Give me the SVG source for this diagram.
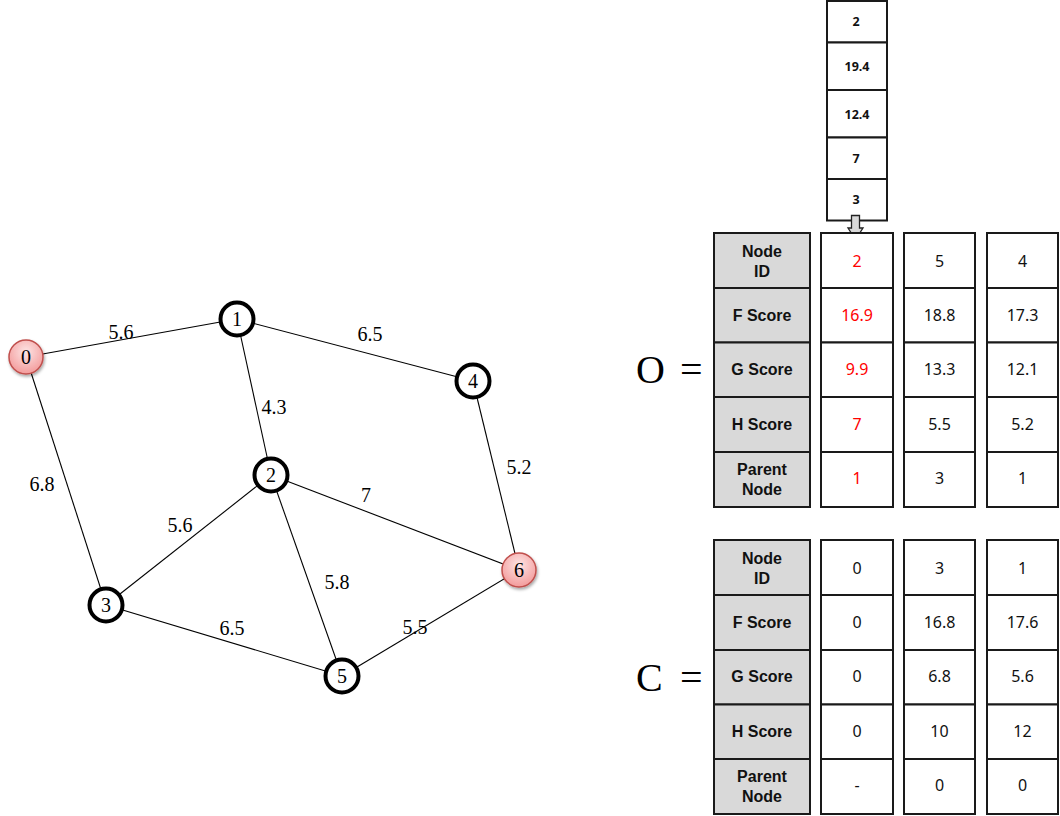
<svg xmlns="http://www.w3.org/2000/svg" width="1060" height="816" viewBox="0 0 1060 816">
<defs>
<radialGradient id="redg" cx="50%" cy="35%" r="65%">
<stop offset="0" stop-color="#fde4e4"/>
<stop offset="1" stop-color="#f39b9b"/>
</radialGradient>
<filter id="sh" x="-50%" y="-50%" width="200%" height="200%">
<feDropShadow dx="1" dy="2" stdDeviation="1.5" flood-color="#000" flood-opacity="0.35"/>
</filter>
<style>
.edge{stroke:#000;stroke-width:1.1;fill:none}
.elbl{font-family:"Liberation Serif",serif;font-size:20px;fill:#000;text-anchor:middle}
.node{fill:#fff;stroke:#000;stroke-width:4}
.rnode{fill:url(#redg);stroke:#c0504d;stroke-width:1.5}
.nlbl{font-family:"Liberation Serif",serif;font-size:20px;fill:#000;text-anchor:middle}
.hdr{fill:#d9d9d9;stroke:#1a1a1a;stroke-width:2}
.cell{fill:#fff;stroke:#1a1a1a;stroke-width:2}
.ht{font-family:"Liberation Sans",Arial,sans-serif;font-size:16px;font-weight:bold;fill:#111;text-anchor:middle}
.vt{font-family:"Noto Sans","Liberation Sans",sans-serif;font-size:16px;fill:#111;text-anchor:middle}
.red{fill:#ff0000}
.st{font-family:"Noto Sans","Liberation Sans",sans-serif;font-size:12.5px;font-weight:bold;fill:#111;text-anchor:middle}
.big{font-family:"Liberation Serif",serif;font-size:40px;fill:#000}
</style>
</defs>

<g id="connectors">
<line class="edge" x1="26" y1="357" x2="237" y2="319"/>
<line class="edge" x1="26" y1="357" x2="106" y2="605"/>
<line class="edge" x1="237" y1="319" x2="271" y2="475"/>
<line class="edge" x1="237" y1="319" x2="473" y2="381"/>
<line class="edge" x1="271" y1="475" x2="106" y2="605"/>
<line class="edge" x1="271" y1="475" x2="342" y2="676"/>
<line class="edge" x1="271" y1="475" x2="519" y2="570"/>
<line class="edge" x1="106" y1="605" x2="342" y2="676"/>
<line class="edge" x1="473" y1="381" x2="519" y2="570"/>
<line class="edge" x1="342" y1="676" x2="519" y2="570"/>
<text class="elbl" x="121" y="339">5.6</text>
<text class="elbl" x="370" y="341">6.5</text>
<text class="elbl" x="274" y="414">4.3</text>
<text class="elbl" x="42" y="491">6.8</text>
<text class="elbl" x="519" y="474">5.2</text>
<text class="elbl" x="366" y="502">7</text>
<text class="elbl" x="180" y="532">5.6</text>
<text class="elbl" x="337" y="589">5.8</text>
<text class="elbl" x="232" y="635">6.5</text>
<text class="elbl" x="415" y="634">5.5</text>
</g>

<g id="node0"><circle class="rnode" cx="26" cy="357" r="17" filter="url(#sh)"/><text class="nlbl" x="26" y="364">0</text></g>
<g id="node1"><circle class="node" cx="237" cy="319" r="16.5"/><text class="nlbl" x="237" y="326">1</text></g>
<g id="node2"><circle class="node" cx="271" cy="475" r="16.5"/><text class="nlbl" x="271" y="482">2</text></g>
<g id="node3"><circle class="node" cx="106" cy="605" r="16.5"/><text class="nlbl" x="106" y="612">3</text></g>
<g id="node4"><circle class="node" cx="473" cy="381" r="16.5"/><text class="nlbl" x="473" y="388">4</text></g>
<g id="node5"><circle class="node" cx="342" cy="676" r="16.5"/><text class="nlbl" x="342" y="683">5</text></g>
<g id="node6"><circle class="rnode" cx="519" cy="570" r="17" filter="url(#sh)"/><text class="nlbl" x="519" y="577">6</text></g>

<g id="stack">
<rect class="cell" x="827" y="1" width="60" height="41.5"/>
<rect class="cell" x="827" y="42.5" width="60" height="47.5"/>
<rect class="cell" x="827" y="90" width="60" height="47.5"/>
<rect class="cell" x="827" y="137.5" width="60" height="41.5"/>
<rect class="cell" x="827" y="179" width="60" height="41.5"/>
<text class="st" x="856" y="26">2</text>
<text class="st" x="857" y="71">19.4</text>
<text class="st" x="857" y="119">12.4</text>
<text class="st" x="856" y="163">7</text>
<text class="st" x="856" y="204">3</text>
<path d="M851.5,215.5 H859.5 V228 H863 L855.5,239.5 L848,228 H851.5 Z" fill="#d9d9d9" stroke="#222" stroke-width="1.3"/>
</g>

<g id="openList">
<text class="big" x="636" y="383">O</text>
<text class="big" x="680" y="383">=</text>
<rect class="hdr" x="714" y="233" width="96" height="55"/>
<rect class="hdr" x="714" y="288" width="96" height="54.5"/>
<rect class="hdr" x="714" y="342.5" width="96" height="54.5"/>
<rect class="hdr" x="714" y="397" width="96" height="55"/>
<rect class="hdr" x="714" y="452" width="96" height="55"/>
<text class="ht" x="762" y="257">Node</text>
<text class="ht" x="762" y="277">ID</text>
<text class="ht" x="762" y="321">F Score</text>
<text class="ht" x="762" y="375">G Score</text>
<text class="ht" x="762" y="430">H Score</text>
<text class="ht" x="762" y="475">Parent</text>
<text class="ht" x="762" y="495">Node</text>

<rect class="cell" x="821" y="233" width="72" height="55"/>
<rect class="cell" x="821" y="288" width="72" height="54.5"/>
<rect class="cell" x="821" y="342.5" width="72" height="54.5"/>
<rect class="cell" x="821" y="397" width="72" height="55"/>
<rect class="cell" x="821" y="452" width="72" height="55"/>
<text class="vt red" x="857" y="267">2</text>
<text class="vt red" x="857" y="321">16.9</text>
<text class="vt red" x="857" y="375">9.9</text>
<text class="vt red" x="857" y="430">7</text>
<text class="vt red" x="857" y="484">1</text>

<rect class="cell" x="904" y="233" width="71" height="55"/>
<rect class="cell" x="904" y="288" width="71" height="54.5"/>
<rect class="cell" x="904" y="342.5" width="71" height="54.5"/>
<rect class="cell" x="904" y="397" width="71" height="55"/>
<rect class="cell" x="904" y="452" width="71" height="55"/>
<text class="vt" x="939.5" y="267">5</text>
<text class="vt" x="939.5" y="321">18.8</text>
<text class="vt" x="939.5" y="375">13.3</text>
<text class="vt" x="939.5" y="430">5.5</text>
<text class="vt" x="939.5" y="484">3</text>

<rect class="cell" x="987" y="233" width="71" height="55"/>
<rect class="cell" x="987" y="288" width="71" height="54.5"/>
<rect class="cell" x="987" y="342.5" width="71" height="54.5"/>
<rect class="cell" x="987" y="397" width="71" height="55"/>
<rect class="cell" x="987" y="452" width="71" height="55"/>
<text class="vt" x="1022.5" y="267">4</text>
<text class="vt" x="1022.5" y="321">17.3</text>
<text class="vt" x="1022.5" y="375">12.1</text>
<text class="vt" x="1022.5" y="430">5.2</text>
<text class="vt" x="1022.5" y="484">1</text>
</g>

<g id="closedList">
<text class="big" x="636" y="691">C</text>
<text class="big" x="680" y="691">=</text>
<rect class="hdr" x="714" y="540" width="96" height="55"/>
<rect class="hdr" x="714" y="595" width="96" height="55"/>
<rect class="hdr" x="714" y="650" width="96" height="54.5"/>
<rect class="hdr" x="714" y="704.5" width="96" height="54.5"/>
<rect class="hdr" x="714" y="759" width="96" height="55"/>
<text class="ht" x="762" y="564">Node</text>
<text class="ht" x="762" y="584">ID</text>
<text class="ht" x="762" y="628">F Score</text>
<text class="ht" x="762" y="682">G Score</text>
<text class="ht" x="762" y="737">H Score</text>
<text class="ht" x="762" y="782">Parent</text>
<text class="ht" x="762" y="802">Node</text>

<rect class="cell" x="821" y="540" width="72" height="55"/>
<rect class="cell" x="821" y="595" width="72" height="55"/>
<rect class="cell" x="821" y="650" width="72" height="54.5"/>
<rect class="cell" x="821" y="704.5" width="72" height="54.5"/>
<rect class="cell" x="821" y="759" width="72" height="55"/>
<text class="vt" x="857" y="574">0</text>
<text class="vt" x="857" y="628">0</text>
<text class="vt" x="857" y="682">0</text>
<text class="vt" x="857" y="737">0</text>
<text class="vt" x="857" y="791">-</text>

<rect class="cell" x="904" y="540" width="71" height="55"/>
<rect class="cell" x="904" y="595" width="71" height="55"/>
<rect class="cell" x="904" y="650" width="71" height="54.5"/>
<rect class="cell" x="904" y="704.5" width="71" height="54.5"/>
<rect class="cell" x="904" y="759" width="71" height="55"/>
<text class="vt" x="939.5" y="574">3</text>
<text class="vt" x="939.5" y="628">16.8</text>
<text class="vt" x="939.5" y="682">6.8</text>
<text class="vt" x="939.5" y="737">10</text>
<text class="vt" x="939.5" y="791">0</text>

<rect class="cell" x="987" y="540" width="71" height="55"/>
<rect class="cell" x="987" y="595" width="71" height="55"/>
<rect class="cell" x="987" y="650" width="71" height="54.5"/>
<rect class="cell" x="987" y="704.5" width="71" height="54.5"/>
<rect class="cell" x="987" y="759" width="71" height="55"/>
<text class="vt" x="1022.5" y="574">1</text>
<text class="vt" x="1022.5" y="628">17.6</text>
<text class="vt" x="1022.5" y="682">5.6</text>
<text class="vt" x="1022.5" y="737">12</text>
<text class="vt" x="1022.5" y="791">0</text>
</g>
</svg>
